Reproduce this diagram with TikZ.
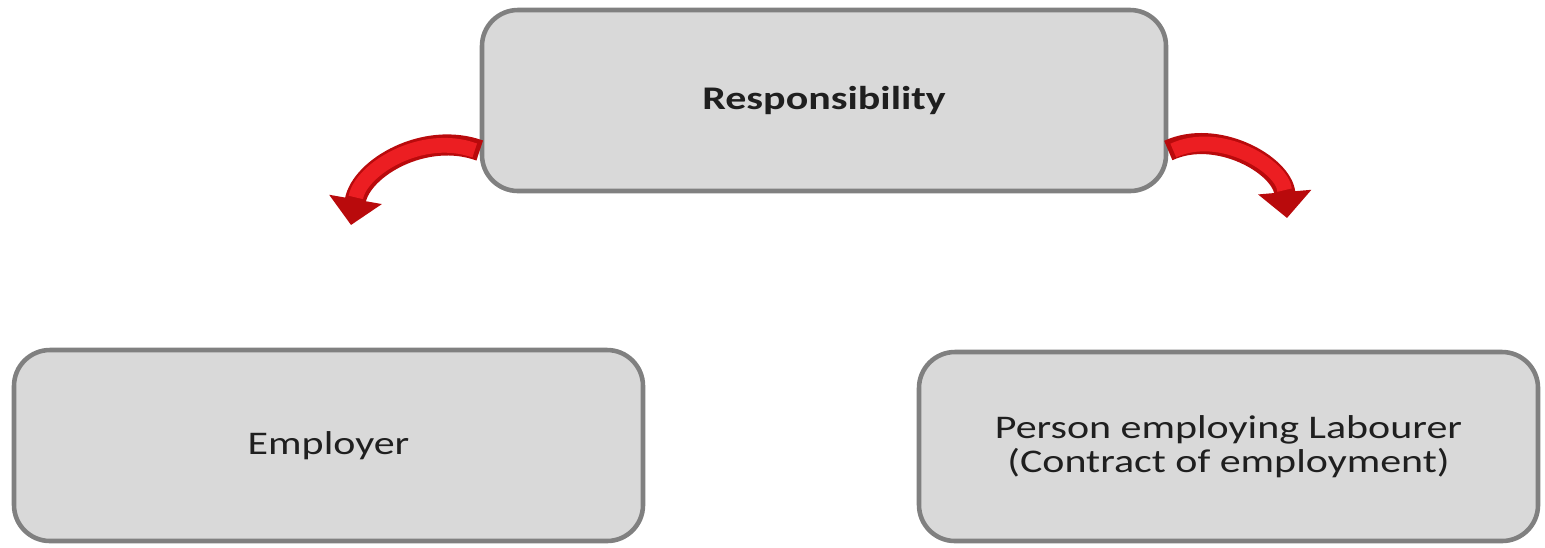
\documentclass[tikz,border=0pt]{standalone}
\usepackage{fontspec}
\setmainfont{Carlito}[FakeStretch=1.27]
\usepackage{tikz}
\usepackage{xcolor}
\usetikzlibrary{arrows.meta}

\definecolor{boxfill}{RGB}{217,217,217}
\definecolor{boxline}{RGB}{128,128,128}
\definecolor{arrowdark}{RGB}{185,10,12}
\definecolor{arrowred}{RGB}{236,30,34}

\begin{document}
\begin{tikzpicture}[
    box/.style={shape=rectangle, rounded corners=0.36cm, draw=boxline, line width=1.3pt,
      fill=boxfill, align=center, text=black!88, inner sep=0pt,
      font=\fontsize{9.4pt}{9.6pt}\selectfont},
    curvearrow/.style={line width=6pt, draw=arrowdark, -{Triangle[width=5.2mm,length=2.6mm]}},
    curvelight/.style={line width=4.2pt, draw=arrowred, shorten >=2.8mm}]
    \useasboundingbox (0,0) rectangle (15.45,5.47);

    \node[box, minimum width=6.84cm, minimum height=1.81cm] (resp) at (8.24,4.465) {\bfseries Responsibility};
    \node[box, minimum width=6.29cm, minimum height=1.91cm] (employer) at (3.285,1.015) {Employer};
    \node[box, minimum width=6.19cm, minimum height=1.89cm] (person) at (12.285,1.005)
      {Person employing Labourer\\(Contract of employment)};

    \coordinate (tipL) at (3.51,3.22);
    \coordinate (tipR) at (12.87,3.29);
    \draw[curvearrow] ([yshift=-5mm]resp.west) to[out=160, in=80] (tipL);
    \draw[curvelight] ([xshift=-0.5mm,yshift=-5mm]resp.west) to[out=160, in=80] (tipL);
    \draw[curvearrow] ([yshift=-5mm]resp.east) to[out=25, in=95] (tipR);
    \draw[curvelight] ([xshift=0.5mm,yshift=-5mm]resp.east) to[out=25, in=95] (tipR);
\end{tikzpicture}
\end{document}
